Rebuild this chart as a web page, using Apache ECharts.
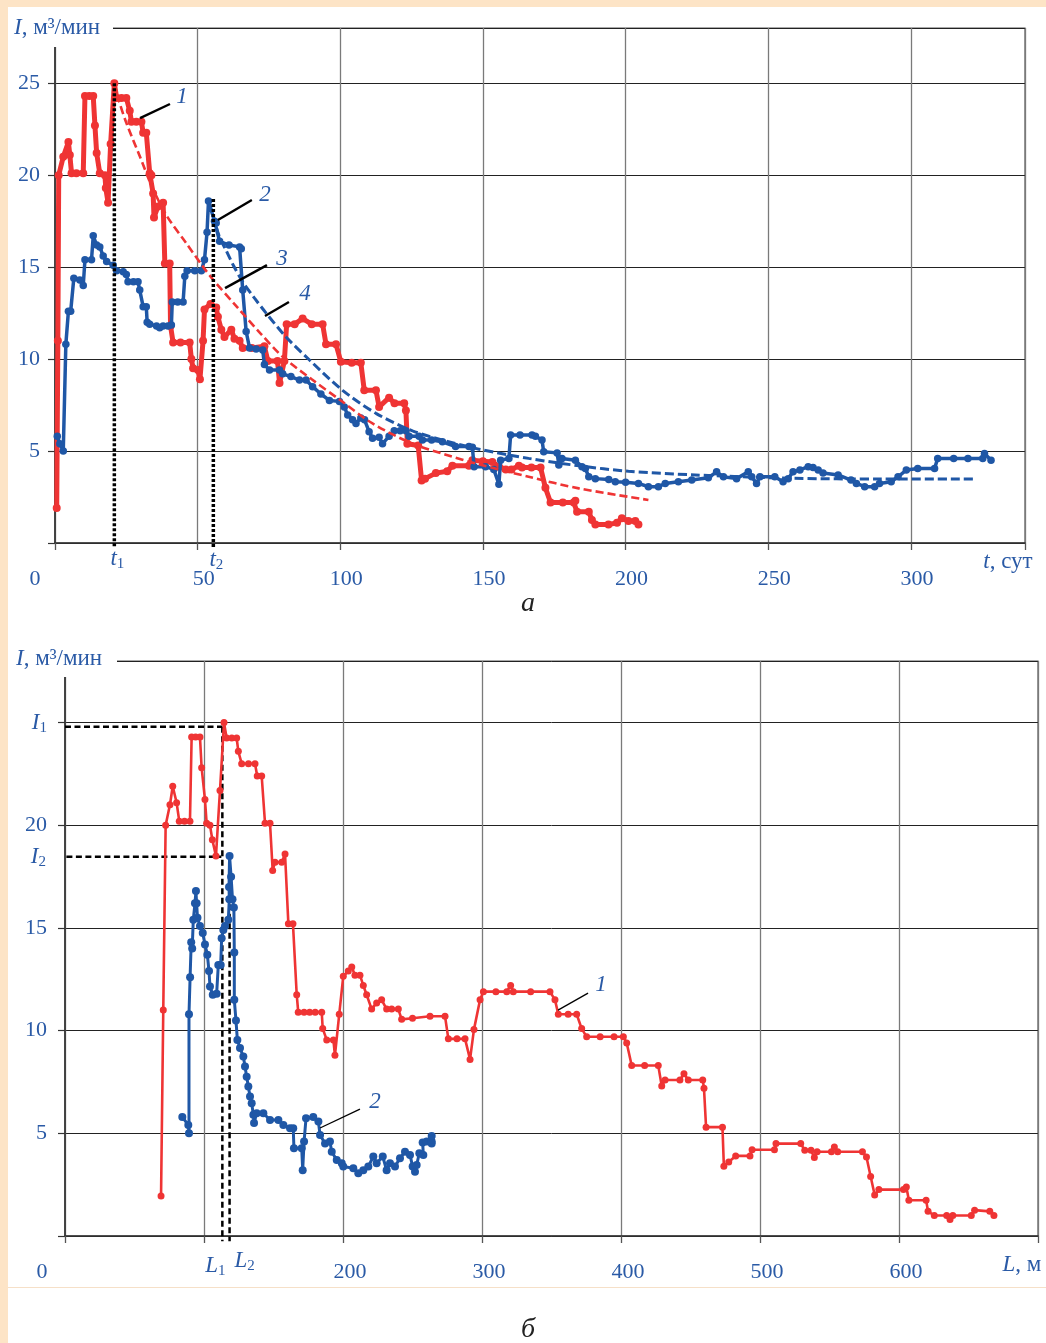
<!DOCTYPE html>
<html><head><meta charset="utf-8">
<script src="https://cdn.jsdelivr.net/npm/echarts@6/dist/echarts.min.js"></script>
<style>
html,body{margin:0;padding:0;width:1046px;height:1343px;background:#fde4c6;overflow:hidden}
#panel{position:absolute;left:8px;top:7px;width:1038px;height:1336px;background:#fff}
#sep{position:absolute;left:8px;top:1287px;width:1038px;height:1px;background:#f6e0c8}
#chart{position:absolute;left:0;top:0;width:1046px;height:1343px}
</style></head><body>
<div id="panel"></div><div id="sep"></div><div id="chart"></div>
<script>
// ---------- tick labels ----------
const xTickLabelsA = [0, 50, 100, 150, 200, 250, 300];
const yTickLabelsA = [5, 10, 15, 20, 25];
const xTickLabelsB = [0, 200, 300, 400, 500, 600];
const yTickLabelsB = [5, 10, 15, 20];
const I1value = 24.8, I2value = 18.47;
const t1 = 20.8, t2 = 55.5, L1 = 113.2, L2 = 118.4;

// ---------- chart a: I(t) ----------
const redA = [[0.6,1.9],[1.0,11.0],[1.3,20.0],[2.9,21.0],[4.7,21.8],[5.2,21.1],[5.8,20.1],[7.5,20.1],[9.9,20.1],[10.5,24.3],[12,24.3],[13.4,24.3],[14.0,22.7],[14.6,21.2],[15.7,20.1],[17.5,20.0],[17.8,19.3],[18.6,18.5],[19.5,21.7],[20.8,25.0],[21.6,24.2],[23.3,24.2],[25.0,24.2],[26.2,23.5],[26.8,22.9],[28.5,22.9],[30.3,22.9],[30.9,22.3],[32.0,22.3],[33.2,20.1],[33.8,20.0],[34.4,19.0],[34.7,17.7],[36.1,18.3],[37.9,18.5],[38.5,15.2],[40.2,15.2],[40.5,11.8],[41.4,10.9],[44,10.9],[47.2,10.9],[47.8,10.0],[48.4,9.5],[50.1,9.4],[50.8,8.9],[51.9,11.0],[52.4,12.7],[54.5,13.0],[56.5,12.8],[57.1,12.3],[58.3,11.6],[59.4,11.2],[61.8,11.6],[62.9,11.1],[64.7,11.0],[65.8,10.6],[69,10.6],[73.4,10.7],[74.6,9.9],[78.0,9.9],[78.7,8.7],[80.4,9.9],[81.2,11.9],[84,11.9],[86.8,12.2],[90,11.9],[93.8,11.9],[95.0,10.8],[98.5,10.8],[100.2,9.85],[104,9.8],[107.2,9.8],[108.4,8.3],[112.5,8.3],[113.6,7.4],[117.1,7.9],[119,7.6],[122.4,7.6],[123.0,7.2],[123.5,5.4],[127.3,5.3],[128.5,3.4],[129.7,3.5],[133.5,3.8],[137.5,3.9],[139.3,4.2],[145.1,4.2],[146.3,4.5],[150,4.45],[153.3,4.4],[155.6,4.15],[158,4.0],[160,4.0],[162.6,4.2],[163.7,4.1],[167,4.1],[170.2,4.1],[171.9,3.0],[173.7,2.2],[178,2.2],[181.8,2.2],[182.4,2.3],[183,1.7],[187.1,1.7],[188.2,1.25],[189.4,1.0],[194,1.0],[197,1.1],[198.7,1.35],[201,1.2],[203.4,1.2],[204.5,1.0]];

const blueA = [[0.8,5.8],[1.7,5.4],[2.9,5.0],[3.8,10.8],[4.7,12.6],[5.5,12.6],[6.6,14.4],[8.7,14.3],[9.9,14.0],[10.5,15.4],[12.8,15.4],[13.4,16.7],[14.6,16.2],[15.7,16.1],[16.9,15.6],[18.1,15.3],[20.4,15.1],[21.6,14.8],[23.9,14.75],[25.0,14.6],[25.6,14.2],[27.5,14.2],[29.1,14.2],[29.7,13.75],[30.9,12.85],[32.0,12.85],[32.3,12.0],[33.2,11.9],[35.6,11.8],[36.7,11.7],[37.9,11.8],[39.6,11.8],[40.8,11.85],[41.1,13.1],[43,13.1],[44.9,13.1],[45.5,14.5],[46.3,14.8],[49,14.8],[51.3,14.8],[52.4,15.4],[53.3,16.9],[53.8,18.6],[55.9,17.5],[56.5,17.4],[57.7,16.4],[61,16.2],[64.7,16.1],[65.3,16.0],[65.8,13.75],[67.0,11.5],[68.2,10.6],[70.5,10.55],[72.8,10.5],[73.4,9.7],[75.2,9.4],[78.7,9.4],[79.8,9.2],[82.7,9.05],[85.7,8.86],[88.0,8.86],[90.3,8.5],[93.2,8.1],[96.2,7.75],[99.7,7.7],[101.4,7.4],[102.6,6.96],[104.3,6.7],[105.5,6.5],[107.2,6.8],[108.5,6.7],[110.1,6.05],[111.3,5.7],[113.6,5.75],[114.8,5.4],[117.1,5.8],[118.9,6.1],[121,6.1],[123.0,6.1],[124.1,5.8],[127.6,5.8],[128.8,5.6],[132,5.6],[135.8,5.5],[140.4,5.24],[145.1,5.24],[146.3,5.2],[146.9,4.15],[150.9,4.15],[153.8,4.0],[155.6,3.2],[156.2,4.5],[159.1,4.6],[159.7,5.87],[163,5.87],[167.2,5.87],[168.4,5.8],[170.7,5.6],[171.3,4.96],[176.0,4.9],[176.6,4.24],[177.7,4.6],[182.4,4.5],[184.7,4.15],[185.9,4.05],[187.1,3.6],[189.4,3.5],[194.1,3.45],[196.4,3.33],[200,3.3],[204.5,3.24],[208,3.06],[211.5,3.06],[213.9,3.24],[218.5,3.33],[223.2,3.42],[229,3.55],[231.9,3.87],[234.3,3.6],[238.9,3.5],[243,3.87],[244.2,3.6],[245.9,3.24],[247.1,3.6],[252.3,3.6],[255.2,3.33],[257,3.5],[258.7,3.87],[261.1,3.97],[264,4.15],[265.7,4.1],[267.5,3.97],[269.2,3.8],[274.5,3.7],[279,3.42],[280.9,3.24],[283.8,3.06],[287.3,3.06],[289,3.24],[293.1,3.33],[295.5,3.6],[298.4,3.97],[302.4,4.05],[308.3,4.05],[309.4,4.6],[315,4.6],[320,4.6],[325.2,4.6],[325.8,4.87],[328.1,4.5]];

const fitRedA = [[20.8,25.0],[22.1,24.2],[25.1,22.8],[29.8,21.0],[33.9,19.4],[39.1,17.8],[46,16.3],[52,15.0],[55.5,14.3],[63.7,12.85],[72,11.4],[80,10.1],[90,8.9],[99.7,7.8],[111.3,6.5],[125.3,5.4],[137,4.8],[148,4.3],[166,3.6],[183.6,2.97],[208,2.34]];

const fitBlueA = [[54,18.5],[55.4,17.8],[57.5,16.7],[60,15.9],[62.5,15.1],[65.8,14.2],[70,13.3],[74,12.5],[81,11.2],[89.2,9.95],[100.8,8.3],[112.5,7.05],[125.3,6.1],[137,5.55],[148.6,5.1],[166,4.6],[183.6,4.2],[201,3.9],[224.4,3.7],[258,3.52],[290,3.48],[322.3,3.48]];

const t1LineA = [[t1,25.0],[t1,-0.25]];
const t2LineA = [[t2,18.7],[t2,-0.25]];
const leader1A = [[29.8,23.1],[40.3,23.87]];
const leader2A = [[57.1,17.56],[69.0,18.65]];
const leader3A = [[59.6,13.86],[74.3,15.11]];
const leader4A = [[73.6,12.34],[82.0,13.1]];
const tagsA = [['1',44.5,24.25],['2',73.6,18.92],['3',79.6,15.44],['4',87.6,13.54]];

// ---------- chart b: I(L) ----------
const redB = [[69.1,1.95],[70.7,11.0],[72.4,20.0],[75.5,21.0],[77.5,21.9],[80.3,21.1],[82.2,20.2],[86,20.2],[89.9,20.2],[91.1,24.3],[94,24.3],[97.1,24.3],[98.3,22.8],[100.7,21.25],[101.9,20.1],[104.3,20.0],[106,19.3],[108.6,18.5],[111.5,21.7],[114.4,25.0],[116.3,24.25],[120,24.25],[123.5,24.25],[124.7,23.6],[127.1,23.0],[132,23.0],[136.7,23.0],[138.3,22.4],[141.5,22.4],[143.9,20.1],[147.5,20.1],[149.4,17.8],[151.1,18.2],[155.9,18.2],[158.3,18.6],[160.7,15.2],[164,15.2],[166.7,11.75],[167.8,10.9],[172,10.9],[176,10.9],[180,10.9],[184.7,10.9],[185.4,10.1],[188.3,9.55],[193.1,9.55],[194.2,8.8],[197.3,10.8],[200.2,12.65],[203.8,12.9],[206.3,13.1],[208.6,12.7],[212.2,12.7],[214.6,12.2],[217,11.75],[220.6,11.05],[224.2,11.35],[227.8,11.5],[231.4,11.05],[235,11.05],[239.8,11.05],[242.2,10.55],[250,10.6],[262.6,10.7],[273.4,10.7],[275.8,9.6],[282,9.6],[287.8,9.6],[291.4,8.6],[294.2,10.05],[298.6,11.5],[301,11.9],[310,11.9],[317.8,11.9],[320.6,12.2],[322.5,11.9],[335,11.9],[348.9,11.9],[352.5,11.5],[354.9,10.8],[362,10.8],[368.1,10.8],[371.7,10.1],[375.3,9.7],[385,9.7],[395,9.7],[401.7,9.7],[404.1,9.4],[407.7,8.3],[417,8.3],[426.8,8.3],[429.3,7.3],[431.7,7.6],[442.4,7.6],[445.3,7.9],[448.4,7.6],[458.8,7.6],[459.7,7.2],[461.2,5.3],[473,5.3],[474,3.4],[477.5,3.6],[482.5,3.9],[492.8,3.9],[494.3,4.2],[510.4,4.2],[511.5,4.5],[529.3,4.5],[532.2,4.17],[536.7,4.17],[539.1,3.82],[541.1,4.1],[551.4,4.1],[553.5,4.33],[555.9,4.1],[573.7,4.1],[576.6,3.85],[579.6,2.9],[582.5,2.0],[585.5,2.26],[603.2,2.26],[605.3,2.39],[607.1,1.74],[619.5,1.74],[620.9,1.2],[625.4,1.0],[634.3,1.0],[636.7,0.8],[638.7,1.0],[652,1.0],[654.4,1.26],[665.3,1.2],[668.3,1.0]];

const blueB = [[84.4,5.8],[88.7,5.4],[89.2,5.0],[89.2,10.8],[90,12.6],[90.8,14.3],[91.5,14.0],[92.3,15.4],[93.5,16.2],[94.2,16.8],[94.7,16.2],[95.3,15.5],[97.1,15.1],[99.1,14.75],[100.7,14.2],[102.4,13.7],[103.6,12.9],[104.3,12.15],[106.3,11.75],[109.1,11.8],[110.3,13.2],[112,13.2],[112.7,14.5],[113.9,14.9],[115.1,15.1],[117.5,15.4],[118.2,16.4],[118.0,17.0],[118.4,18.5],[119.5,17.5],[120.5,16.4],[121.5,16.0],[121.8,13.8],[121.8,11.5],[123,10.5],[124,9.55],[125.9,9.15],[128.3,8.74],[129.5,8.25],[130.7,7.76],[131.9,7.28],[133.1,6.79],[134.3,6.47],[135.5,5.9],[136,5.5],[137.9,5.98],[142.7,5.98],[147.5,5.65],[153.5,5.65],[157.1,5.4],[161.9,5.25],[164.2,5.25],[164.7,4.27],[170.3,4.27],[171,3.2],[172,4.6],[173.4,5.74],[178.6,5.8],[182.3,5.57],[183.5,4.92],[187.1,4.5],[190.6,4.6],[191.9,4.1],[195.5,3.7],[199.1,3.54],[200.2,3.38],[207.4,3.3],[211,3.06],[214.6,3.2],[218.2,3.38],[221.8,3.87],[224.2,3.54],[228.6,3.87],[231.4,3.2],[233.8,3.54],[237.4,3.38],[241,3.79],[244.6,4.1],[248.2,3.95],[250.1,3.38],[251.8,3.13],[253,3.46],[254.9,4.03],[257.8,3.95],[257.3,4.55],[260.2,4.6],[263.8,4.6],[263.8,4.87],[263.8,4.5]];

const I1LineB = [[0,I1value],[L1,I1value]];
const I2LineB = [[1,I2value],[112.5,I2value]];
const L1LineB = [[L1,I1value],[L1,-0.25]];
const L2LineB = [[L2,I2value],[L2,-0.25]];
const leader1B = [[354.7,11.0],[376.3,11.83]];
const leader2B = [[183.5,5.26],[212.2,6.18]];
const tagsB = [['1',385.6,12.22],['2',223,6.52]];

// ---------- styles ----------
const FONT = "'Liberation Serif','Times New Roman',serif";
const TXT = '#2a5aa6';
const RED = '#ef3434';
const BLUE = '#1f57a6';
const FS = 22;

const chart = echarts.init(document.getElementById('chart'), null, {renderer:'canvas', width:1046, height:1343});

function xAxisDef(g, max, interval, labels, zPad, nPad){
  return {gridIndex:g, type:'value', min:0, max:max, interval:interval,
    axisLine:{show:true, onZero:false, lineStyle:{color:'#333', width:1.6}},
    axisTick:{show:true, length:7, lineStyle:{color:'#555', width:1.3}},
    splitLine:{show:true, lineStyle:{color:'#7a7a7a', width:1.3}},
    axisLabel:{margin:25, showMinLabel:true, showMaxLabel:true,
      formatter:function(v){ if(v===0) return '{z|0}'; return labels.indexOf(v)>=0 ? '{n|'+v+'}' : ''; },
      rich:{z:{fontFamily:FONT,fontSize:FS,color:TXT,padding:[0,zPad,0,0]}, n:{fontFamily:FONT,fontSize:FS,color:TXT,padding:[0,0,0,nPad]}}}
  };
}
function yAxisDef(g, labels, margin, special){
  return {gridIndex:g, type:'value', min:0, max:28, interval:5,
    axisLine:{show:true, onZero:false, lineStyle:{color:'#333', width:1.6}},
    axisTick:{show:true, length:7, lineStyle:{color:'#333', width:1.2}},
    splitLine:{show:true, lineStyle:{color:'#222', width:1}},
    axisLabel:{margin:margin, showMinLabel:true, showMaxLabel:true, fontFamily:FONT, fontSize:FS, color:TXT,
      formatter:function(v){ if(special && v===25) return '{i|I}{s|1}'; return labels.indexOf(v)>=0 ? String(v) : ''; },
      rich:{i:{fontFamily:FONT,fontSize:23,fontStyle:'italic',color:TXT}, s:{fontFamily:FONT,fontSize:15,color:TXT,padding:[10,0,0,0]}}}
  };
}
function dataSeries(data, g, color, lw, ss, z){
  return {type:'line', data:data, xAxisIndex:g, yAxisIndex:g, symbol:'circle', symbolSize:ss, showSymbol:true, showAllSymbol:true,
    lineStyle:{color:color, width:lw, cap:'round', join:'round'}, itemStyle:{color:color, borderWidth:0}, silent:true, z:z};
}
function refSeries(data, g, color, lw, dash, z, smooth){
  return {type:'line', data:data, xAxisIndex:g, yAxisIndex:g, symbol:'none', showSymbol:false, clip:false, smooth:smooth||false,
    lineStyle:{color:color, width:lw, type:dash}, silent:true, z:z};
}

const option = {
  animation:false,
  backgroundColor:'transparent',
  grid:[
    {left:55, top:28, width:970, height:515, show:true, borderColor:'#555', borderWidth:1.2, containLabel:false, outerBoundsMode:'none'},
    {left:65, top:661, width:973, height:575, show:true, borderColor:'#555', borderWidth:1.2, containLabel:false, outerBoundsMode:'none'}
  ],
  xAxis:[ xAxisDef(0, 340, 50, xTickLabelsA, 40, 12), xAxisDef(1, 700, 100, xTickLabelsB, 46, 14) ],
  yAxis:[ yAxisDef(0, yTickLabelsA, 15, false), yAxisDef(1, yTickLabelsB, 18, true) ],
  series:[
    dataSeries(redA, 0, RED, 5, 8, 3),
    dataSeries(blueA, 0, BLUE, 3.5, 7.5, 4),
    refSeries(fitRedA, 0, RED, 2.6, [8,4], 5, 0.3),
    refSeries(fitBlueA, 0, BLUE, 3, [9,4], 5, 0.3),
    refSeries(t1LineA, 0, '#000', 3.5, [3,2], 6),
    refSeries(t2LineA, 0, '#000', 3.5, [3,2], 6),
    refSeries(leader1A, 0, '#000', 2.4, 'solid', 6),
    refSeries(leader2A, 0, '#000', 2.4, 'solid', 6),
    refSeries(leader3A, 0, '#000', 2.4, 'solid', 6),
    refSeries(leader4A, 0, '#000', 2.4, 'solid', 6),
    refSeries(I1LineB, 1, '#000', 2.5, [6,3.5], 2),
    refSeries(I2LineB, 1, '#000', 2.5, [6,3.5], 2),
    refSeries(L1LineB, 1, '#000', 2.5, [6,3.5], 2),
    refSeries(L2LineB, 1, '#000', 2.5, [6,3.5], 2),
    dataSeries(redB, 1, RED, 2.6, 7, 3),
    dataSeries(blueB, 1, BLUE, 3, 8, 4),
    refSeries(leader1B, 1, '#000', 1.3, 'solid', 6),
    refSeries(leader2B, 1, '#000', 1.3, 'solid', 6)
  ]
};
chart.setOption(option);

// ---------- text annotations placed through the chart's own scales ----------
const P = (g, x, y) => chart.convertToPixel({gridIndex:g}, [x, y]);
const richBase = {
  i:{fontFamily:FONT, fontSize:23, fontStyle:'italic', fill:TXT},
  r:{fontFamily:FONT, fontSize:23, fill:TXT},
  s:{fontFamily:FONT, fontSize:15, fill:TXT, padding:[10,0,0,0]}
};
function txt(text, x, y, align){
  return {type:'text', z:101, silent:true,
    style:{text:text, x:x, y:y, align:align||'center', verticalAlign:'middle', rich:richBase, font:'23px '+FONT, fill:TXT}};
}
function plain(text, x, y){
  return {type:'text', z:101, silent:true,
    style:{text:text, x:x, y:y, align:'center', verticalAlign:'middle', font:'italic 28px '+FONT, fill:'#222'}};
}
const els = [];
els.push({type:'rect', z:100, silent:true, shape:{x:8, y:12, width:105, height:35}, style:{fill:'#fff'}});
els.push({type:'rect', z:100, silent:true, shape:{x:8, y:643, width:109, height:34}, style:{fill:'#fff'}});
els.push(txt('{i|I}{r|, м³/мин}', 14, 28, 'left'));
els.push(txt('{i|I}{r|, м³/мин}', 16, 659, 'left'));
// chart a
let p = P(0, t1, 0); els.push(txt('{i|t}{s|1}', p[0]+3, p[1]+16));
p = P(0, t2, 0); els.push(txt('{i|t}{s|2}', p[0]+3, p[1]+17));
els.push(txt('{i|t}{r|, сут}', 1008, 562));
tagsA.forEach(function(t){ const q = P(0, t[1], t[2]); els.push(txt('{i|'+t[0]+'}', q[0], q[1])); });
els.push(plain('а', 528, 604));
// chart b
p = P(1, 0, I2value); els.push(txt('{i|I}{s|2}', 46, p[1], 'right'));
p = P(1, L1, 0); els.push(txt('{i|L}{s|1}', p[0]-7, p[1]+30));
p = P(1, L2, 0); els.push(txt('{i|L}{s|2}', p[0]+15, p[1]+25));
els.push(txt('{i|L}{r|, м}', 1022, 1265));
tagsB.forEach(function(t){ const q = P(1, t[1], t[2]); els.push(txt('{i|'+t[0]+'}', q[0], q[1])); });
els.push(plain('б', 528, 1330));
chart.setOption({graphic:{elements:els}});
</script></body></html>
